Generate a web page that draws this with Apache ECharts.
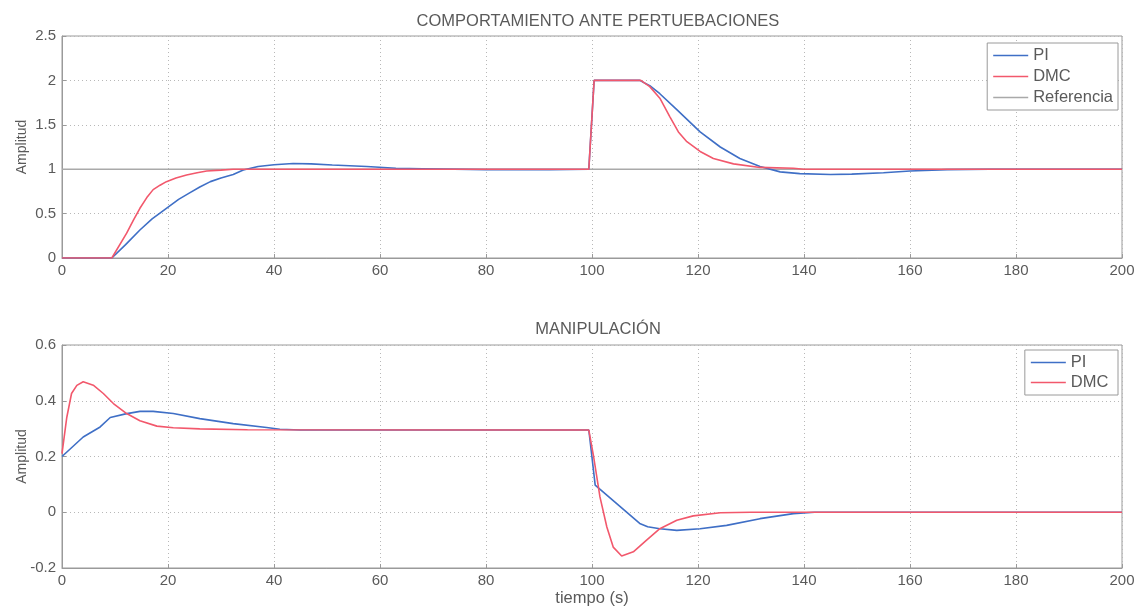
<!DOCTYPE html>
<html>
<head>
<meta charset="utf-8">
<script src="https://cdn.jsdelivr.net/npm/echarts@6/dist/echarts.min.js"></script>
<style>
  html, body { margin: 0; padding: 0; background: #fff; }
  #chart { width: 1141px; height: 609px; }
</style>
</head>
<body>
<div id="chart"></div>
<script>
// Respuesta ante perturbaciones (salida)
const piOutT = [0, 9.4, 12, 14.7, 17, 19.7, 22, 24, 26, 28, 30, 32.3, 34.2, 37, 40, 43.6, 47, 51, 57.5, 63, 68, 80, 92, 99.4,
  100.4, 109, 110.9, 112.8, 116, 120.4, 124.2, 127.9, 131.7, 135.5, 139.2, 145, 149, 155, 160, 167, 175, 200];
const piOutV = [0, 0, 0.15, 0.315, 0.44, 0.56, 0.66, 0.73, 0.80, 0.86, 0.90, 0.94, 0.99, 1.03, 1.05, 1.065, 1.06, 1.047, 1.03, 1.01, 1.005, 0.995, 0.995, 1.0,
  2.0, 2.0, 1.94, 1.85, 1.67, 1.42, 1.25, 1.12, 1.03, 0.97, 0.95, 0.94, 0.945, 0.96, 0.98, 0.995, 1.0, 1.0];

const dmcOutT = [0, 9.4, 12.2, 13.5, 14.7, 16, 17.2, 18.5, 19.7, 21.5, 23.5, 25.5, 27.3, 30, 32.3, 99.4,
  100.4, 109.2, 110.9, 112.8, 114.7, 116.3, 117.9, 120.4, 122.9, 126.7, 131.7, 138, 140, 200];
const dmcOutV = [0, 0, 0.28, 0.43, 0.56, 0.68, 0.77, 0.82, 0.86, 0.9, 0.935, 0.96, 0.98, 0.99, 1.0, 1.0,
  2.0, 2.0, 1.93, 1.80, 1.59, 1.42, 1.31, 1.20, 1.12, 1.06, 1.02, 1.01, 1.0, 1.0];

const refT = [0, 200];
const refV = [1, 1];

// Señal de control (manipulación)
const piCtrlT = [0, 2, 4, 7.2, 9.1, 12, 14.7, 17.2, 21, 26, 32.3, 38.6, 41.1, 45, 99.4,
  100.6, 109, 110.5, 112.8, 116, 120.4, 125.4, 131.7, 138, 142, 200];
const piCtrlV = [0.2, 0.235, 0.27, 0.306, 0.34, 0.353, 0.362, 0.362, 0.354, 0.336, 0.318, 0.304, 0.298, 0.295, 0.295,
  0.097, -0.04, -0.052, -0.059, -0.065, -0.059, -0.047, -0.023, -0.005, 0, 0];

const dmcCtrlT = [0, 0.9, 1.8, 2.8, 4, 5.9, 7.8, 9.7, 12.2, 14.7, 17.9, 21, 26, 35, 99.4,
  100.3, 101.5, 102.8, 104, 105.6, 107.8, 110.3, 112.8, 116, 119.1, 124.2, 130, 200];
const dmcCtrlV = [0.21, 0.34, 0.426, 0.455, 0.468, 0.456, 0.426, 0.39, 0.354, 0.328, 0.309, 0.303, 0.299, 0.296, 0.295,
  0.2, 0.055, -0.053, -0.125, -0.157, -0.142, -0.1, -0.059, -0.029, -0.013, -0.002, 0, 0];

const xTicks = { min: 0, max: 200, interval: 20 };
const topTicks = { min: 0, max: 2.5, interval: 0.5 };
const bottomTicks = { min: -0.2, max: 0.6, interval: 0.2 };

const zip = (t, v) => t.map((x, i) => [x, v[i]]);

const FONT = 'Liberation Sans, Arial, sans-serif';
const TEXT = '#5a5a5a';
const AXIS = '#9a9a9a';
const BLUE = '#3f6fc6';
const RED = '#f2586c';
const GRAY = '#a9a9a9';

function xAxis(gridIndex, extra) {
  return Object.assign({
    type: 'value', gridIndex,
    min: xTicks.min, max: xTicks.max, interval: xTicks.interval,
    axisLine: { show: true, onZero: false, lineStyle: { color: AXIS } },
    axisTick: { show: true, inside: true, length: 4, lineStyle: { color: AXIS } },
    axisLabel: { color: TEXT, fontFamily: FONT, fontSize: 15, margin: 5 },
    splitLine: { show: true, lineStyle: { color: '#b8b8b8', type: [1, 3], width: 1 } }
  }, extra || {});
}

function yAxis(gridIndex, ticks) {
  return {
    type: 'value', gridIndex,
    min: ticks.min, max: ticks.max, interval: ticks.interval,
    name: 'Amplitud', nameLocation: 'middle', nameGap: 33, nameRotate: 90,
    nameMoveOverlap: false,
    nameTextStyle: { color: TEXT, fontFamily: FONT, fontSize: 14 },
    axisLine: { show: true, lineStyle: { color: AXIS } },
    axisTick: { show: true, inside: true, length: 4, lineStyle: { color: AXIS } },
    axisLabel: { color: TEXT, fontFamily: FONT, fontSize: 15, margin: 6,
      formatter: v => String(Math.round(v * 10) / 10) },
    splitLine: { show: true, lineStyle: { color: '#b8b8b8', type: [1, 3], width: 1 } }
  };
}

function line(name, t, v, color, idx, z) {
  return {
    name, type: 'line', xAxisIndex: idx, yAxisIndex: idx,
    data: zip(t, v), showSymbol: false, symbol: 'none',
    lineStyle: { color, width: 1.6 }, itemStyle: { color },
    z: z, silent: true
  };
}

const legendBase = {
  orient: 'vertical',
  right: 23,
  backgroundColor: '#fff',
  borderColor: '#9a9a9a', borderWidth: 1, borderRadius: 0,
  padding: [4, 5, 4, 6],
  icon: 'rect',
  itemGap: 3, itemWidth: 35, itemHeight: 1.6,
  textStyle: { color: TEXT, fontFamily: FONT, fontSize: 16.5, lineHeight: 17 }
};

const chart = echarts.init(document.getElementById('chart'), null, { renderer: 'canvas' });
chart.setOption({
  animation: false,
  backgroundColor: '#fff',
  title: [
    { text: 'COMPORTAMIENTO ANTE PERTUEBACIONES', left: 593, top: 8, textAlign: 'center',
      textStyle: { color: TEXT, fontFamily: FONT, fontSize: 16.5, fontWeight: 'normal' } },
    { text: 'MANIPULACIÓN', left: 593, top: 316, textAlign: 'center',
      textStyle: { color: TEXT, fontFamily: FONT, fontSize: 16.5, fontWeight: 'normal' } }
  ],
  grid: [
    { left: 62, right: 19, top: 36, height: 222, show: true, borderColor: AXIS, borderWidth: 1,
      outerBoundsMode: 'none', containLabel: false },
    { left: 62, right: 19, top: 345, height: 223, show: true, borderColor: AXIS, borderWidth: 1,
      outerBoundsMode: 'none', containLabel: false }
  ],
  xAxis: [
    xAxis(0),
    xAxis(1, { name: 'tiempo (s)', nameLocation: 'middle', nameGap: 22, nameMoveOverlap: false,
      nameTextStyle: { color: TEXT, fontFamily: FONT, fontSize: 16.5 } })
  ],
  yAxis: [yAxis(0, topTicks), yAxis(1, bottomTicks)],
  legend: [
    Object.assign({}, legendBase, { top: 43, itemGap: 4, data: ['PI', 'DMC', 'Referencia'] }),
    Object.assign({}, legendBase, { top: 350, data: [{ name: 'PI ' }, { name: 'DMC ' }] })
  ],
  series: [
    line('Referencia', refT, refV, GRAY, 0, 1),
    line('PI', piOutT, piOutV, BLUE, 0, 2),
    line('DMC', dmcOutT, dmcOutV, RED, 0, 3),
    line('PI ', piCtrlT, piCtrlV, BLUE, 1, 2),
    line('DMC ', dmcCtrlT, dmcCtrlV, RED, 1, 3)
  ]
});
</script>
</body>
</html>
